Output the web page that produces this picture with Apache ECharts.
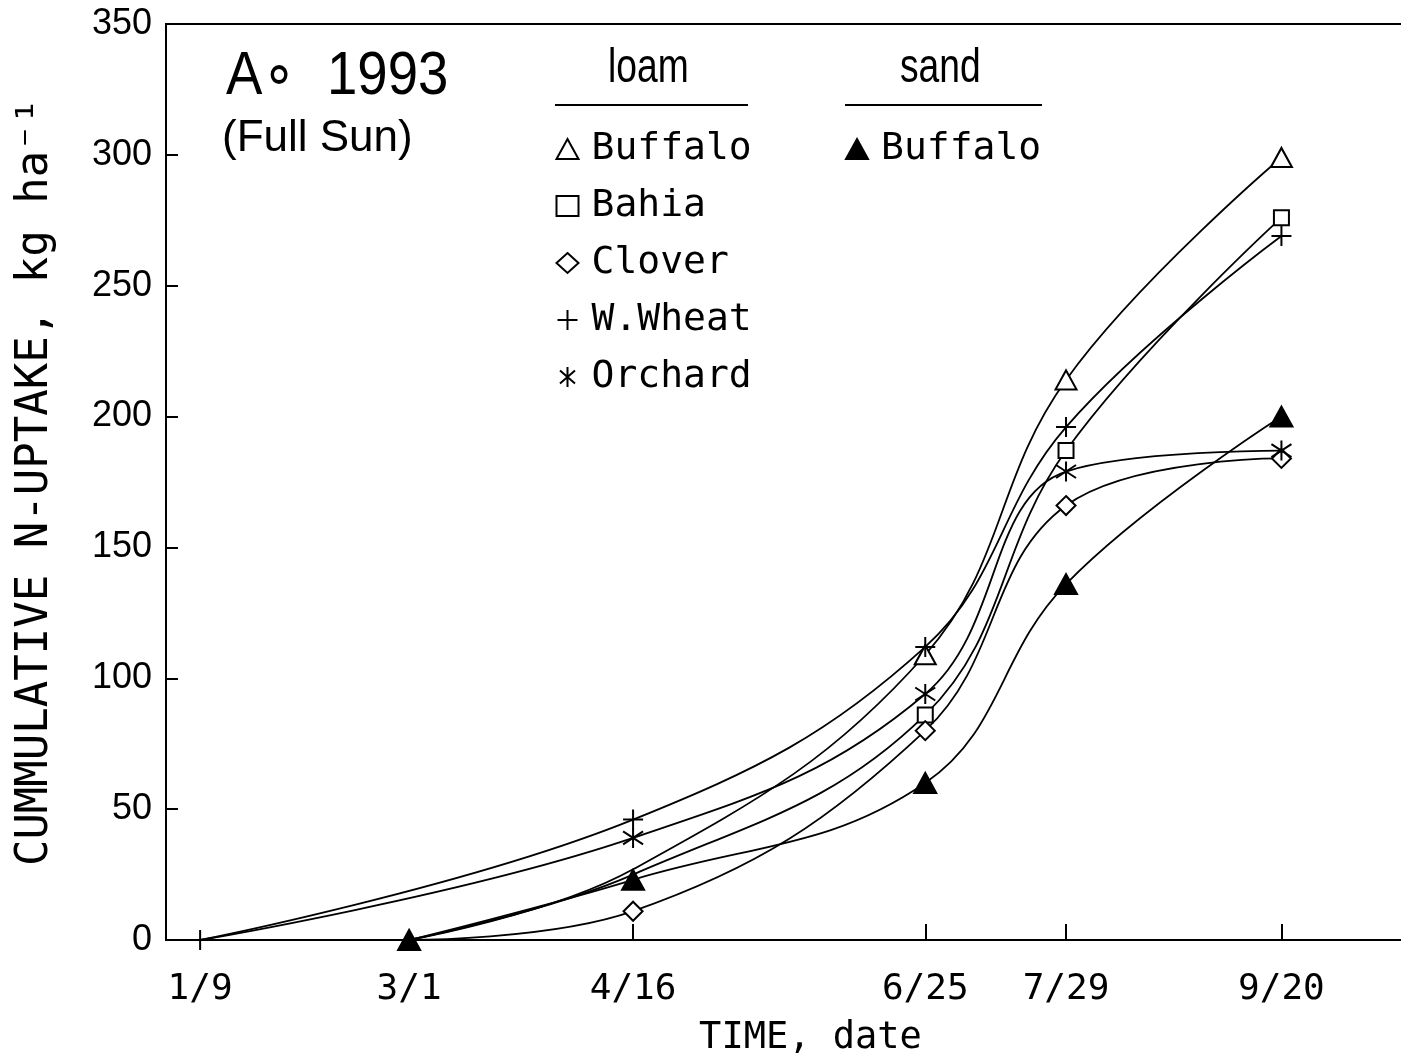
<!DOCTYPE html>
<html>
<head>
<meta charset="utf-8">
<script src="https://cdn.jsdelivr.net/npm/echarts@6/dist/echarts.min.js"></script>
<style>
  html, body { margin: 0; padding: 0; background: #fff; }
  #chart { width: 1401px; height: 1055px; }
</style>
</head>
<body>
<div id="chart"></div>
<script>
// sampling dates, placed where they sit on the original time axis
const dateLabels = ['1/9', '3/1', '4/16', '6/25', '7/29', '9/20'];
const datePos = [8, 57, 109.5, 178, 211, 261.5];

// cumulative N uptake, kg/ha (null = not sampled)
const buffaloLoam = [null, 0, 27, 109, 214, 299];
const bahiaLoam = [null, 0, 25, 86, 187, 276];
const cloverLoam = [null, 0, 11, 80, 166, 184];
const wheatLoam = [0, null, 46, 112, 196, 269];
const orchardLoam = [0, null, 39, 94, 179, 187];
const buffaloSand = [null, 0, 23, 60, 136, 200];

const sansFont = "'Liberation Sans', Arial, sans-serif";
const monoFont = "'DejaVu Sans Mono', 'Liberation Mono', monospace";

const plusPath = 'path://M10,0L10,20M0,10L20,10';
const starPath = 'path://M10,0L10,20M2.5,3.5L17.5,16.5M17.5,3.5L2.5,16.5';

// markers hidden where another one sits on top of them in the original
function pts(vals, hideAt) {
  const out = [];
  vals.forEach((v, i) => {
    if (v === null) return;
    const p = { value: [datePos[i], v] };
    if (hideAt.indexOf(i) >= 0) p.symbol = 'none';
    out.push(p);
  });
  return out;
}

function lineSeries(name, vals, symbol, size, fill, hideAt) {
  return {
    name: name,
    type: 'line',
    data: pts(vals, hideAt || []),
    smooth: 0.4,
    clip: false,
    symbol: symbol,
    symbolSize: size,
    lineStyle: { color: '#000', width: 1.8 },
    itemStyle: { color: fill, borderColor: '#000', borderWidth: 2 },
    emphasis: { disabled: true }
  };
}

const chart = echarts.init(document.getElementById('chart'));
chart.setOption({
  animation: false,
  backgroundColor: '#fff',
  grid: {
    left: 166, top: 24, right: -2, bottom: 115,
    containLabel: false,
    outerBoundsMode: 'none',
    show: true, borderColor: '#000', borderWidth: 2
  },
  xAxis: {
    type: 'value',
    min: 0,
    max: 290,
    name: 'TIME, date',
    nameLocation: 'middle',
    nameGap: 80,
    nameTextStyle: { fontFamily: monoFont, fontSize: 37, color: '#000', padding: [0, 0, 0, 52] },
    axisLine: { lineStyle: { color: '#000', width: 2 } },
    axisTick: { inside: true, length: 16, lineStyle: { color: '#000', width: 2 },
      customValues: datePos.slice(2) },
    axisLabel: {
      customValues: datePos,
      formatter: v => dateLabels[datePos.indexOf(v)] || '',
      margin: 32,
      fontFamily: monoFont, fontSize: 36, color: '#000'
    },
    splitLine: { show: false }
  },
  yAxis: {
    type: 'value',
    min: 0,
    max: 350,
    interval: 50,
    name: 'CUMMULATIVE N-UPTAKE, kg ha\u207B\u00B9',
    nameLocation: 'middle',
    nameGap: 108,
    nameTextStyle: { fontFamily: monoFont, fontSize: 44, color: '#000' },
    axisLine: { show: true, lineStyle: { color: '#000', width: 2 } },
    axisTick: { show: true, inside: true, length: 12, lineStyle: { color: '#000', width: 2 } },
    axisLabel: { margin: 14, fontFamily: sansFont, fontSize: 36, color: '#000' },
    splitLine: { show: false }
  },
  legend: [
    {
      orient: 'vertical',
      left: 550, top: 124,
      itemWidth: 22, itemHeight: 20,
      itemGap: 17,
      textStyle: { fontFamily: monoFont, fontSize: 38, color: '#000', lineHeight: 40, padding: [0, 0, 0, 8] },
      formatter: n => n.replace(' (loam)', ''),
      selectedMode: false,
      data: [
        { name: 'Buffalo (loam)', icon: 'triangle' },
        { name: 'Bahia', icon: 'rect' },
        { name: 'Clover', icon: 'diamond' },
        { name: 'W.Wheat', icon: plusPath },
        { name: 'Orchard', icon: starPath }
      ]
    },
    {
      orient: 'vertical',
      left: 840, top: 124,
      itemWidth: 22, itemHeight: 20,
      textStyle: { fontFamily: monoFont, fontSize: 38, color: '#000', lineHeight: 40, padding: [0, 0, 0, 8] },
      formatter: n => n.replace(' (sand)', ''),
      selectedMode: false,
      data: [{ name: 'Buffalo (sand)', icon: 'triangle' }]
    }
  ],
  graphic: [
    { type: 'text', x: 226, y: 46, scaleX: 0.88,
      style: { text: 'A\u2218  1993', font: '62px ' + sansFont, fill: '#000', verticalAlign: 'top' } },
    { type: 'text', x: 222, y: 117, scaleX: 1,
      style: { text: '(Full Sun)', font: '44px ' + sansFont, fill: '#000', verticalAlign: 'top' } },
    { type: 'text', x: 608, y: 44, scaleX: 0.76,
      style: { text: 'loam', font: '49px ' + sansFont, fill: '#000', verticalAlign: 'top' } },
    { type: 'text', x: 900, y: 44, scaleX: 0.76,
      style: { text: 'sand', font: '49px ' + sansFont, fill: '#000', verticalAlign: 'top' } },
    { type: 'line', shape: { x1: 555, y1: 105, x2: 748, y2: 105 }, style: { stroke: '#000', lineWidth: 2 } },
    { type: 'line', shape: { x1: 845, y1: 105, x2: 1042, y2: 105 }, style: { stroke: '#000', lineWidth: 2 } }
  ],
  series: [
    lineSeries('Buffalo (loam)', buffaloLoam, 'triangle', [21, 19], '#fff', [1, 2]),
    lineSeries('Bahia', bahiaLoam, 'rect', 15, '#fff', [1, 2]),
    lineSeries('Clover', cloverLoam, 'diamond', [19, 19], '#fff', [1]),
    lineSeries('Orchard', orchardLoam, starPath, 20, 'none', [0]),
    lineSeries('W.Wheat', wheatLoam, plusPath, 20, 'none'),
    lineSeries('Buffalo (sand)', buffaloSand, 'triangle', [22, 20], '#000')
  ]
});
</script>
</body>
</html>
